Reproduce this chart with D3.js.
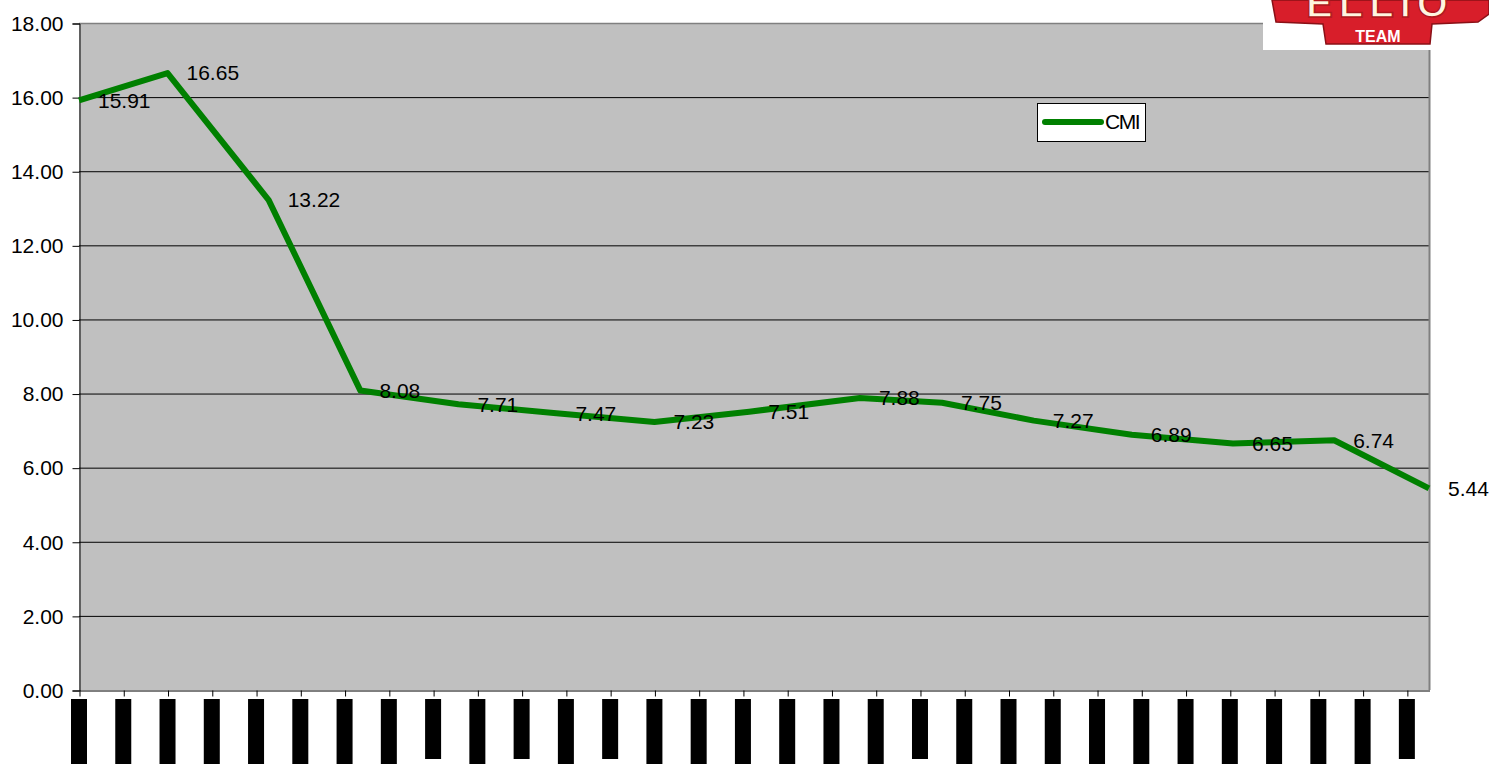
<!DOCTYPE html>
<html>
<head>
<meta charset="utf-8">
<script src="https://cdn.jsdelivr.net/npm/d3@7"></script>
<style>
  body { margin: 0; background: #fff; }
  svg { display: block; font-family: Arial, "Liberation Sans", sans-serif; }
</style>
</head>
<body>
<div id="viz"></div>
<script>
// day offsets of each reading from the first one
const days = [0, 28, 60, 89, 120, 151, 182, 212, 247, 273, 302, 333, 365, 397, 427];
const cmi = [15.91, 16.65, 13.22, 8.08, 7.71, 7.47, 7.23, 7.51, 7.88, 7.75, 7.27, 6.89, 6.65, 6.74, 5.44];
const series_name = 'CMI';
// category ticks every 14 days, their (hidden) label lengths in characters
const tick_days = d3.range(0, 421, 14);
const tick_label_chars = [9,9,9,9,9,9,9,9,8,9,8,9,8,9,9,9,9,9,9,8,9,9,9,9,9,9,9,9,9,9,8];
const y_ticks = [0, 2, 4, 6, 8, 10, 12, 14, 16, 18];

const LAYOUT = {
  width: 1489,
  height: 764,
  margins: { left: 79, right: 60, top: 23, bottom: 74 }
}

const width = LAYOUT.width;
const height = LAYOUT.height;
const m = LAYOUT.margins;

const svg = d3.select("#viz").append("svg")
  .attr("width", width)
  .attr("height", height);

const x = d3.scaleLinear().domain([0, 427]).range([m.left, width - m.right]);
const y = d3.scaleLinear().domain([0, 18]).range([height - m.bottom, m.top]);

// plot area
svg.append("rect")
  .attr("x", x(0)).attr("y", y(18))
  .attr("width", x(427) - x(0)).attr("height", y(0) - y(18))
  .attr("fill", "#c0c0c0");

// gridlines
svg.append("g")
  .selectAll("line")
  .data(y_ticks.filter(d => d > 0 && d < 18))
  .join("line")
  .attr("x1", x(0)).attr("x2", x(427))
  .attr("y1", d => y(d) + 0.5).attr("y2", d => y(d) + 0.5)
  .attr("stroke", "#000")
  .attr("stroke-width", 1);

// top and right borders
svg.append("line")
  .attr("x1", x(0)).attr("x2", x(427) + 1)
  .attr("y1", y(18) + 0.5).attr("y2", y(18) + 0.5)
  .attr("stroke", "#808080").attr("stroke-width", 1.5);
svg.append("line")
  .attr("x1", x(427) + 0.5).attr("x2", x(427) + 0.5)
  .attr("y1", y(18)).attr("y2", y(0))
  .attr("stroke", "#808080").attr("stroke-width", 2);

// y axis
const yAxis = svg.append("g")
  .attr("transform", `translate(${x(0) + 0.5},0.5)`)
  .call(d3.axisLeft(y).tickValues(y_ticks).tickFormat(d3.format(".2f")).tickSize(7).tickPadding(9));
yAxis.select(".domain").attr("stroke", "#000");
yAxis.selectAll("line").attr("stroke", "#000");
yAxis.selectAll("text").attr("font-size", 21).attr("fill", "#000").attr("font-family", "Arial, 'Liberation Sans', sans-serif");

// x axis
const xAxis = svg.append("g")
  .attr("transform", `translate(0.5,${y(0) + 0.5})`)
  .call(d3.axisBottom(x).tickValues(tick_days).tickFormat("").tickSize(6).tickSizeOuter(0));
xAxis.select(".domain").attr("stroke", "#000");
xAxis.selectAll("line").attr("stroke", "#000");

// hidden category labels (blacked out)
const label_len = d3.scaleLinear().domain([8, 9]).range([60, 66]);
svg.append("g")
  .selectAll("rect")
  .data(tick_days)
  .join("rect")
  .attr("x", d => x(d) - 8)
  .attr("y", y(0) + 9)
  .attr("width", 16)
  .attr("height", (d, i) => label_len(tick_label_chars[i]))
  .attr("fill", "#000");

// series line
const pts = days.map((d, i) => [d, cmi[i]]);
svg.append("path")
  .datum(pts)
  .attr("fill", "none")
  .attr("stroke", "#008000")
  .attr("stroke-width", 6)
  .attr("stroke-linejoin", "round")
  .attr("d", d3.line().x(d => x(d[0])).y(d => y(d[1])));

// data labels
svg.append("g")
  .selectAll("text")
  .data(pts)
  .join("text")
  .attr("x", d => x(d[0]) + 19)
  .attr("y", d => y(d[1]))
  .attr("dy", "0.35em")
  .attr("font-size", 21)
  .attr("fill", "#000")
  .text(d => d3.format(".2f")(d[1]));

// legend
const legend = svg.append("g").attr("transform", "translate(1037,103)");
legend.append("rect")
  .attr("x", 0.5).attr("y", 0.5)
  .attr("width", 108).attr("height", 38)
  .attr("fill", "#fff").attr("stroke", "#000");
legend.append("line")
  .attr("x1", 8).attr("x2", 64)
  .attr("y1", 19).attr("y2", 19)
  .attr("stroke", "#008000").attr("stroke-width", 6)
  .attr("stroke-linecap", "round");
legend.append("text")
  .attr("x", 68).attr("y", 19).attr("dy", "0.35em")
  .attr("font-size", 21)
  .attr("letter-spacing", -1.5)
  .attr("fill", "#000")
  .text(series_name);

// team logo in the top right corner
const logo = svg.append("g");
logo.append("rect")
  .attr("x", 1263).attr("y", 0)
  .attr("width", 168).attr("height", 50)
  .attr("fill", "#fff");
logo.append("path")
  .attr("d", "M1272,0 L1489,0 L1489,14 L1478,22 L1432,24 L1430,44 L1326,44 L1323,24 L1276,22 Z")
  .attr("fill", "#d81e2a")
  .attr("stroke", "#8a1016")
  .attr("stroke-width", 1.5);
logo.append("text")
  .attr("x", 1380).attr("y", 17)
  .attr("text-anchor", "middle")
  .attr("font-size", 40)
  .attr("font-weight", "bold")
  .attr("fill", "#fff6e0")
  .attr("stroke", "#b01820")
  .attr("stroke-width", 1.5)
  .attr("letter-spacing", 6)
  .text("ELLIO");
logo.append("text")
  .attr("x", 1378).attr("y", 42)
  .attr("text-anchor", "middle")
  .attr("font-size", 16)
  .attr("font-weight", "bold")
  .attr("fill", "#fff")
  .text("TEAM");
</script>
</body>
</html>
